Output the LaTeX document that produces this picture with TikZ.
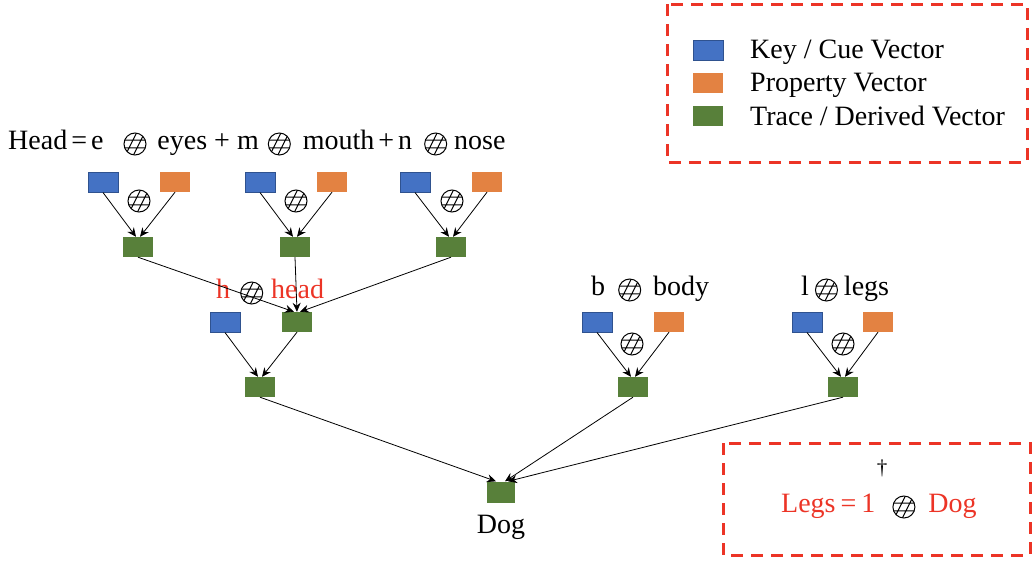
\documentclass[tikz,border=0pt]{standalone}
\usepackage{fontspec}
\setmainfont{Liberation Serif}
\usetikzlibrary{arrows.meta,calc}
\definecolor{kblue}{RGB}{68,114,196}
\definecolor{kblueb}{RGB}{47,82,143}
\definecolor{korange}{RGB}{227,130,66}
\definecolor{kgreen}{RGB}{88,128,58}
\definecolor{kred}{RGB}{236,52,38}
\newcommand{\hsym}{\raisebox{-6.5pt}{\tikz[x=1pt,y=1pt,line width=1pt]{%
  \useasboundingbox (-11.5,-11.5) rectangle (11.5,11.5);
  \begin{scope}\clip (0,0) circle (11);
  \draw[black] (-13,3.8)--(13,3.8) (-13,-3.8)--(13,-3.8)
        (-10.5,-13)--(2.5,13) (-2.5,-13)--(10.5,13);
  \end{scope}
  \draw[black] (0,0) circle (11);}}}
\newcommand{\gap}[1]{\hspace{#1pt}}
\begin{document}
\begin{tikzpicture}[x=1pt,y=-1pt,
  txt/.style={inner sep=0pt,anchor=base west,font=\fontsize{28}{32}\selectfont},
  redtxt/.style={txt,text=kred},
  vbox/.style={rectangle,inner sep=0pt,minimum width=30pt,minimum height=20pt},
  keybox/.style={vbox,fill=kblue,draw=kblueb,line width=1pt},
  propbox/.style={vbox,fill=korange},
  tracebox/.style={vbox,fill=kgreen},
  symb/.style={inner sep=0pt},
  conn/.style={line width=0.8pt,-{Stealth[length=9pt,width=8pt]}},
  frame/.style={draw=kred,line width=3pt,dash pattern=on 12pt off 8pt}
]
\useasboundingbox (0,0) rectangle (1034,560);

% legend
\draw[frame] (667,4) rectangle (1027,162);
\node[keybox] (lk) at (708,50) {};
\node[propbox] (lp) at (708,83) {};
\node[tracebox] (lt) at (708,116) {};
\node[txt] (lkt) at (750,58) {Key / Cue Vector};
\node[txt] (lpt) at (750,91) {Property Vector};
\node[txt] (ltt) at (750,125) {Trace / Derived Vector};

% head formula
\node[txt] (headf) at (8,149) {Head\gap{4}=\gap{4}e\gap{20}\hsym\gap{11}eyes + m\gap{9}\hsym\gap{12}mouth\gap{4}+\gap{4}n\gap{12}\hsym\gap{7}nose};

% row 1
\node[keybox] (b1) at (103,182) {};
\node[propbox] (o1) at (175,182) {};
\node[keybox] (b2) at (260,182) {};
\node[propbox] (o2) at (332,182) {};
\node[keybox] (b3) at (415,182) {};
\node[propbox] (o3) at (487,182) {};
\node[symb] (s1) at (139,201) {\hsym};
\node[symb] (s2) at (296,201) {\hsym};
\node[symb] (s3) at (452,201) {\hsym};
\node[tracebox] (g1) at (138,247) {};
\node[tracebox] (g2) at (295,247) {};
\node[tracebox] (g3) at (451,247) {};
\draw[conn] (b1.south) -- ($(g1.north)+(-2,0)$);
\draw[conn] (o1.south) -- ($(g1.north)+(2,0)$);
\draw[conn] (b2.south) -- ($(g2.north)+(-2,0)$);
\draw[conn] (o2.south) -- ($(g2.north)+(2,0)$);
\draw[conn] (b3.south) -- ($(g3.north)+(-2,0)$);
\draw[conn] (o3.south) -- ($(g3.north)+(2,0)$);

% h head
\node[redtxt] (hh) at (216,298) {h\gap{10}\hsym\gap{8}head};
\node[keybox] (bh) at (225,322) {};
\node[tracebox] (gh) at (297,322) {};
\draw[conn] (g1.south) -- ($(gh.north)+(-3,0)$);
\draw[conn] (g2.south) -- (gh.north);
\draw[conn] (g3.south) -- ($(gh.north)+(3,0)$);
\node[tracebox] (gA) at (260,387) {};
\draw[conn] (bh.south) -- ($(gA.north)+(-2,0)$);
\draw[conn] (gh.south) -- ($(gA.north)+(2,0)$);

% body
\node[txt] (bt) at (591,295) {b\gap{13}\hsym\gap{12}body};
\node[keybox] (bb) at (597,322) {};
\node[propbox] (ob) at (669,322) {};
\node[symb] (sb) at (632,344) {\hsym};
\node[tracebox] (gB) at (633,387) {};
\draw[conn] (bb.south) -- ($(gB.north)+(-2,0)$);
\draw[conn] (ob.south) -- ($(gB.north)+(2,0)$);

% legs
\node[txt] (lt2) at (801,295) {l\gap{6}\hsym\gap{6}legs};
\node[keybox] (bl) at (807,322) {};
\node[propbox] (ol) at (878,322) {};
\node[symb] (sl) at (843,344) {\hsym};
\node[tracebox] (gC) at (843,387) {};
\draw[conn] (bl.south) -- ($(gC.north)+(-2,0)$);
\draw[conn] (ol.south) -- ($(gC.north)+(2,0)$);

% dog
\node[tracebox,minimum width=28pt,minimum height=21pt] (dog) at (501,492) {};
\node[txt,anchor=base] (dogt) at (501,533) {Dog};
\draw[conn] (gA.south) -- ($(dog.north)+(-5,0)$);
\draw[conn] (gB.south) -- ($(dog.north)+(4,0)$);
\draw[conn] (gC.south) -- ($(dog.north)+(7,0)$);

% bottom box
\draw[frame] (723,443) rectangle (1030,555);
\node[inner sep=0pt,font=\fontsize{21}{24}\selectfont] (dag) at (882,468) {†};
\node[redtxt] (legsf) at (781,512) {Legs\gap{5}=\gap{5}1\gap{17}\hsym\gap{13}Dog};
\end{tikzpicture}
\end{document}
